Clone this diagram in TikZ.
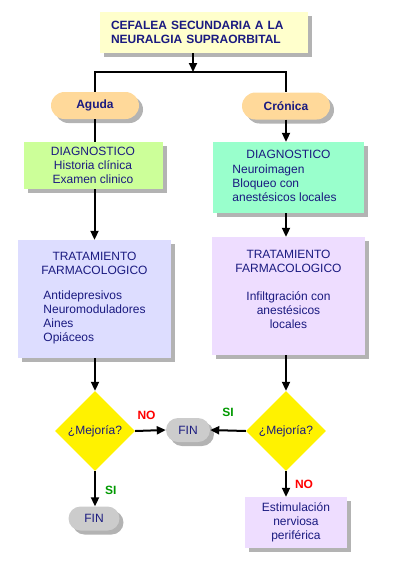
\documentclass[tikz,border=0pt]{standalone}
\usepackage{fontspec}
\setmainfont{Liberation Sans}
\usetikzlibrary{shapes.geometric,shapes.misc,shadows,arrows.meta}
\definecolor{tinta}{HTML}{1A1A80}
\definecolor{crema}{HTML}{FFFFCC}
\definecolor{durazno}{HTML}{FFD99A}
\definecolor{verdeclaro}{HTML}{CCFF99}
\definecolor{aguamarina}{HTML}{99FFCC}
\definecolor{lavanda}{HTML}{DDDDFF}
\definecolor{lila}{HTML}{EEDDFF}
\definecolor{gris}{HTML}{CCCCCC}
\definecolor{verdesi}{HTML}{009900}

\begin{document}
\begin{tikzpicture}[x=1pt,y=-1pt,
		every node/.style={font=\fontsize{12}{14}\selectfont, text=tinta, inner sep=2pt},
		sombra/.style={drop shadow={shadow xshift=4pt,shadow yshift=-4pt,fill=black!50,opacity=.6}},
		caja/.style={sombra, align=center, minimum width=#1},
		pildora/.style={rounded rectangle, sombra, fill=durazno, minimum width=92pt, minimum height=27pt,
			font=\fontsize{12}{14}\selectfont\bfseries},
		fin/.style={rounded rectangle, sombra, fill=gris, minimum width=#1, minimum height=24pt},
		pregunta/.style={diamond, fill=yellow, inner sep=0pt, minimum width=80pt, minimum height=80pt},
		conn/.style={line width=2pt},
		flecha/.style={conn, -{Triangle[length=9pt,width=8pt]}},
		etsi/.style={text=verdesi, font=\fontsize{12}{14}\selectfont\bfseries},
		etno/.style={text=red, font=\fontsize{12}{14}\selectfont\bfseries}]
		\useasboundingbox (0,0) rectangle (406,566);
		\node[caja=208pt, fill=crema, align=left, text width=186pt, inner xsep=11pt, minimum height=41pt,
			font=\fontsize{12}{14}\selectfont\bfseries] (titulo) at (204,32.5) {CEFALEA SECUNDARIA A LA\\NEURALGIA SUPRAORBITAL};
		\coordinate (reparto) at (193,72);
		\node[pildora] (aguda) at (95,105.5) {Aguda};
		\node[pildora] (cronica) at (286,106) {Crónica};
		\node[caja=139pt, fill=verdeclaro, minimum height=47pt] (diagL) at (93,165.5) {DIAGNOSTICO\\Historia clínica\\Examen clinico};
		\node[caja=151pt, fill=aguamarina, minimum height=71pt] (diagR) at (288.5,177.5)
			{DIAGNOSTICO\\[4pt]\begin{tabular}{@{}l@{}}Neuroimagen\\Bloqueo con\\anestésicos locales\end{tabular}\hspace*{8pt}};
		\node[caja=153pt, fill=lavanda, minimum height=118pt] (tratL) at (94.5,299)
			{TRATAMIENTO\\FARMACOLOGICO\\[14pt]\begin{tabular}{@{}l@{}}Antidepresivos\\Neuromoduladores\\Aines\\Opiáceos\end{tabular}};
		\node[caja=153pt, fill=lila, minimum height=118pt] (tratR) at (288.5,296)
			{TRATAMIENTO\\FARMACOLOGICO\\[14pt]Infiltgración con\\anestésicos\\locales\\~};
		\node[pregunta] (mejL) at (95,431) {¿Mejoría?};
		\node[pregunta] (mejR) at (286,431) {¿Mejoría?};
		\node[fin=48pt] (finM) at (188,430) {FIN};
		\node[fin=55pt] (finB) at (94,518.5) {FIN};
		\node[caja=102pt, fill=lila, minimum height=51pt] (estim) at (296,522.5) {Estimulación\\nerviosa\\periférica};
		\draw[flecha] (titulo.south -| reparto) -- (reparto);
		\draw[conn] (aguda.north -| tratL) |- (reparto) -| (cronica.north -| mejR);
		\draw[conn] (aguda.south -| tratL) -- (diagL.north -| tratL);
		\draw[flecha] (cronica.south -| mejR) -- (diagR.north -| mejR);
		\draw[flecha] (diagL.south -| tratL) -- (tratL.north);
		\draw[flecha] (diagR.south -| mejR) -- (tratR.north -| mejR);
		\draw[flecha] (tratL.south -| mejL) -- (mejL.north);
		\draw[flecha] (tratR.south -| mejR) -- (mejR.north);
		\draw[flecha] (mejL.east) -- (finM.west) node[etno, midway, above=8pt, xshift=-4pt] {NO};
		\draw[flecha] (mejR.west) -- (finM.east) node[etsi, midway, above=11pt] {SI};
		\draw[flecha] (mejL.south) -- (finB.north -| mejL) node[etsi, pos=.55, right=7pt] {SI};
		\draw[flecha] (mejR.south) -- (estim.north -| mejR) node[etno, midway, right=6pt] {NO};
	\end{tikzpicture}
\end{document}
